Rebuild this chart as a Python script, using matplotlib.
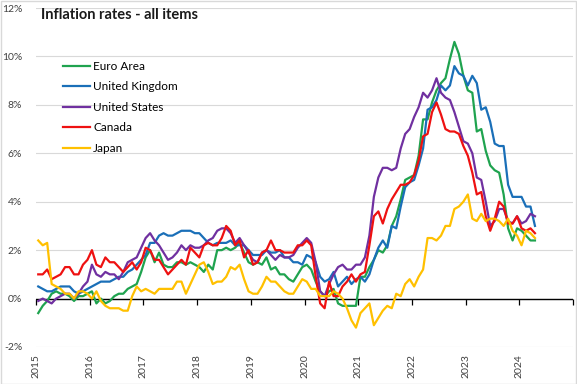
import numpy as np
import matplotlib
matplotlib.use("Agg")
import matplotlib.pyplot as plt
from matplotlib.patches import Rectangle

plt.rcParams["font.family"] = ["Lato", "DejaVu Sans"]

# monthly y/y inflation, Jan 2015 - Apr 2024
euro_area = [
    -0.6, -0.3, -0.1, 0.2, 0.3, 0.2, 0.2, 0.1, -0.1, 0.1, 0.1, 0.2,
    0.3, -0.2, 0.0, -0.2, -0.1, 0.1, 0.2, 0.2, 0.4, 0.5, 0.6, 1.1,
    1.7, 2.0, 1.5, 1.9, 1.4, 1.3, 1.3, 1.5, 1.5, 1.4, 1.5, 1.4,
    1.3, 1.1, 1.4, 1.2, 2.0, 2.0, 2.1, 2.0, 2.1, 2.3, 1.9, 1.5,
    1.4, 1.5, 1.4, 1.7, 1.2, 1.3, 1.0, 1.0, 0.8, 0.7, 1.0, 1.3,
    1.4, 1.2, 0.7, 0.3, 0.1, 0.3, 0.4, -0.2, -0.3, -0.3, -0.3, -0.3,
    0.9, 0.9, 1.3, 1.6, 2.0, 1.9, 2.2, 3.0, 3.4, 4.1, 4.9, 5.0,
    5.1, 5.9, 7.4, 7.4, 8.1, 8.6, 8.9, 9.1, 9.9, 10.6, 10.1, 9.2,
    8.6, 8.5, 6.9, 7.0, 6.1, 5.5, 5.3, 5.2, 4.3, 2.9, 2.4, 2.9,
    2.8, 2.6, 2.4, 2.4,
]
united_kingdom = [
    0.5, 0.4, 0.3, 0.3, 0.4, 0.5, 0.5, 0.5, 0.3, 0.2, 0.3, 0.4,
    0.5, 0.6, 0.7, 0.7, 0.7, 0.8, 0.9, 0.9, 1.1, 1.2, 1.4, 1.6,
    1.8, 2.3, 2.3, 2.6, 2.7, 2.6, 2.6, 2.7, 2.8, 2.8, 2.8, 2.7,
    2.7, 2.5, 2.3, 2.2, 2.3, 2.3, 2.3, 2.4, 2.2, 2.2, 2.2, 2.0,
    1.8, 1.8, 1.8, 2.0, 1.9, 1.9, 2.0, 1.7, 1.7, 1.5, 1.5, 1.4,
    1.8, 1.7, 1.5, 0.9, 0.7, 0.8, 1.1, 0.5, 0.7, 0.9, 0.6, 0.8,
    0.9, 0.7, 1.0, 1.6, 2.1, 2.4, 2.1, 3.0, 2.9, 3.8, 4.6, 4.8,
    4.9, 5.5, 6.2, 7.8, 7.9, 8.2, 8.8, 8.6, 8.8, 9.6, 9.3, 9.2,
    8.8, 9.2, 8.9, 7.8, 7.9, 7.3, 6.4, 6.3, 6.3, 4.7, 4.2, 4.2,
    4.2, 3.8, 3.8, 3.0,
]
united_states = [
    -0.1, 0.0, -0.1, -0.2, 0.0, 0.1, 0.2, 0.2, 0.0, 0.2, 0.5, 0.7,
    1.4, 1.0, 0.9, 1.1, 1.0, 1.0, 0.8, 1.1, 1.5, 1.6, 1.7, 2.1,
    2.5, 2.7, 2.4, 2.2, 1.9, 1.6, 1.7, 1.9, 2.2, 2.0, 2.2, 2.1,
    2.1, 2.2, 2.4, 2.5, 2.8, 2.9, 2.9, 2.7, 2.3, 2.5, 2.2, 1.9,
    1.6, 1.5, 1.9, 2.0, 1.8, 1.6, 1.8, 1.7, 1.7, 1.8, 2.1, 2.3,
    2.5, 2.3, 1.5, 0.3, 0.1, 0.6, 1.0, 1.3, 1.4, 1.2, 1.2, 1.4,
    1.4, 1.7, 2.6, 4.2, 5.0, 5.4, 5.4, 5.3, 5.4, 6.2, 6.8, 7.0,
    7.5, 7.9, 8.5, 8.3, 8.6, 9.1, 8.5, 8.3, 8.2, 7.7, 7.1, 6.5,
    6.4, 6.0, 5.0, 4.9, 4.0, 3.0, 3.2, 3.7, 3.7, 3.2, 3.1, 3.4,
    3.1, 3.2, 3.5, 3.4,
]
canada = [
    1.0, 1.0, 1.2, 0.8, 0.9, 1.0, 1.3, 1.3, 1.0, 1.0, 1.4, 1.6,
    2.0, 1.4, 1.3, 1.7, 1.5, 1.5, 1.3, 1.1, 1.3, 1.5, 1.2, 1.5,
    2.1, 2.0, 1.6, 1.6, 1.3, 1.0, 1.2, 1.4, 1.6, 1.4, 2.1, 1.9,
    1.7, 2.2, 2.3, 2.2, 2.2, 2.5, 3.0, 2.8, 2.2, 2.4, 1.7, 2.0,
    1.4, 1.5, 1.9, 2.0, 2.4, 2.0, 2.0, 1.9, 1.9, 1.9, 2.2, 2.2,
    2.4, 2.2, 0.9, -0.2, -0.4, 0.7, 0.1, 0.1, 0.5, 0.7, 1.0, 0.7,
    1.0, 1.1, 2.2, 3.4, 3.6, 3.1, 3.7, 4.1, 4.4, 4.7, 4.7, 4.8,
    5.1, 5.7, 6.7, 6.8, 7.7, 8.1, 7.6, 7.0, 6.9, 6.9, 6.8, 6.3,
    5.9, 5.2, 4.3, 4.4, 3.4, 2.8, 3.3, 4.0, 3.8, 3.1, 3.1, 3.4,
    2.9, 2.8, 2.9, 2.7,
]
japan = [
    2.4, 2.2, 2.3, 0.6, 0.5, 0.4, 0.2, 0.2, 0.0, 0.3, 0.3, 0.2,
    0.0, 0.3, -0.1, -0.3, -0.4, -0.4, -0.4, -0.5, -0.5, 0.1, 0.5, 0.3,
    0.4, 0.3, 0.2, 0.4, 0.4, 0.4, 0.4, 0.7, 0.7, 0.2, 0.6, 1.0,
    1.4, 1.5, 1.1, 0.6, 0.7, 0.7, 0.9, 1.3, 1.2, 1.4, 0.8, 0.3,
    0.2, 0.2, 0.5, 0.9, 0.7, 0.7, 0.5, 0.3, 0.2, 0.2, 0.5, 0.8,
    0.7, 0.4, 0.4, 0.1, 0.1, 0.1, 0.3, 0.2, 0.0, -0.4, -0.9, -1.2,
    -0.6, -0.4, -0.2, -1.1, -0.8, -0.5, -0.3, -0.4, 0.2, 0.1, 0.6, 0.8,
    0.5, 0.9, 1.2, 2.5, 2.5, 2.4, 2.6, 3.0, 3.0, 3.7, 3.8, 4.0,
    4.3, 3.3, 3.2, 3.5, 3.2, 3.3, 3.3, 3.2, 3.0, 3.3, 2.8, 2.6,
    2.2, 2.8, 2.7, 2.5,
]

series = {
    "Euro Area": (euro_area, "#1fa34f"),
    "United Kingdom": (united_kingdom, "#1a6fb8"),
    "United States": (united_states, "#7030a0"),
    "Canada": (canada, "#ee1111"),
    "Japan": (japan, "#ffc000"),
}
years = list(range(2015, 2026))
year_labels = [str(y) for y in years[:-1]] + [""]

fig = plt.figure(figsize=(5.77, 3.84), dpi=100)
ax = fig.add_axes([36 / 577, 1 - 347 / 384, 537 / 577, 339 / 384])

for name, (vals, col) in series.items():
    # points sit in the middle of each month slot
    x = 2015 + (np.arange(len(vals)) + 0.5) / 12
    ax.plot(x, vals, color=col, lw=1.6, label=name, zorder=3)

ax.set_xlim(2015, 2025)
ax.set_ylim(-2, 12)
ax.set_yticks(range(-2, 13, 2))
ax.set_yticklabels([f"{v}%" for v in range(-2, 13, 2)])
ax.set_xticks(years)
ax.set_xticklabels(year_labels, rotation=90)
ax.grid(axis="y", color="#d9d9d9", lw=0.8)
ax.set_axisbelow(True)
for s in ax.spines.values():
    s.set_visible(False)
ax.tick_params(axis="both", length=0, labelsize=7.5, colors="#404040")
ax.tick_params(axis="y", pad=10)
ax.tick_params(axis="x", pad=5)

# black zero line with year tick marks pointing down
ax.axhline(0, color="black", lw=1.0, zorder=2)
zero = ax.secondary_xaxis(2 / 14)
zero.set_xticks(years)
zero.set_xticklabels([])
for s in zero.spines.values():
    s.set_visible(False)
zero.tick_params(axis="x", which="both", top=True, bottom=False,
                 direction="in", length=4, width=0.9, color="black")

ax.legend(loc="upper left", bbox_to_anchor=(63 / 577, 1 - 61 / 384),
          bbox_transform=fig.transFigure, frameon=False, fontsize=8.5,
          handlelength=2.3, handletextpad=0.25, labelspacing=0.8,
          borderpad=0, borderaxespad=0)

fig.text(41 / 577, 1 - 15 / 384, "Inflation rates - all items",
         fontsize=10.5, fontweight="bold", va="center", color="#1a1a1a")

fig.patches.append(Rectangle((0.001, 0.001), 0.997, 0.997, transform=fig.transFigure,
                             fill=False, edgecolor="#d9d9d9", lw=1))

fig.savefig("out.png", dpi=100)
